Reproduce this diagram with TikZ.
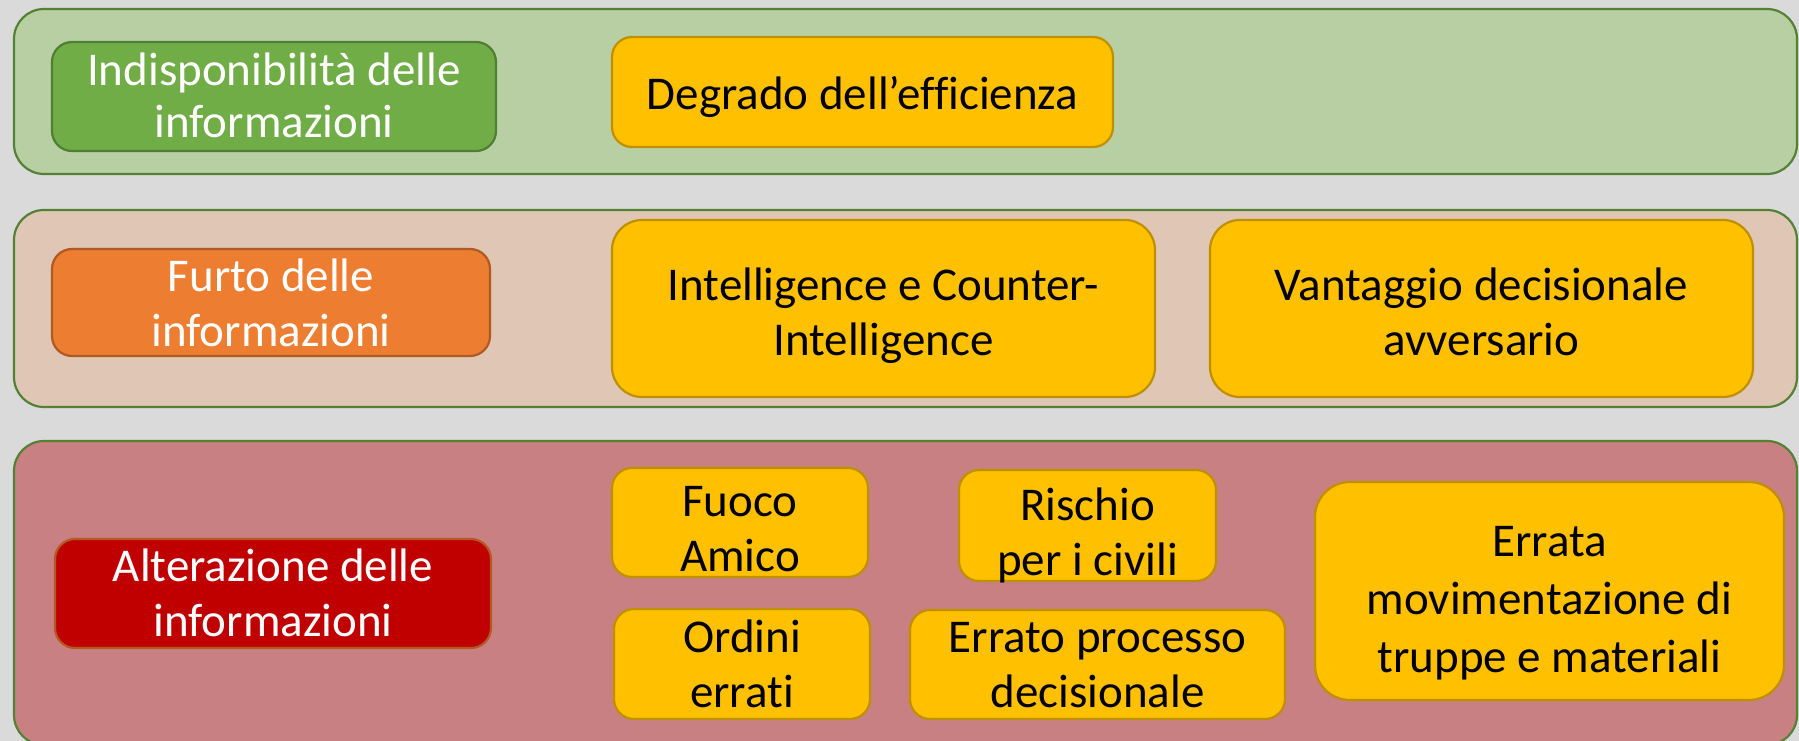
\documentclass[tikz,border=0pt]{standalone}
\usepackage{fontspec}
\setmainfont{Carlito}[Ligatures=NoCommon]
\definecolor{bggray}{HTML}{DADADA}
\definecolor{bandgreen}{HTML}{B7CFA3}
\definecolor{bandpeach}{HTML}{E0C6B4}
\definecolor{bandred}{HTML}{C98082}
\definecolor{bandline}{HTML}{548235}
\definecolor{hgreen}{HTML}{70AD47}
\definecolor{hgreenline}{HTML}{507E32}
\definecolor{horange}{HTML}{ED7D31}
\definecolor{horangeline}{HTML}{AE5A21}
\definecolor{hred}{HTML}{C00000}
\definecolor{hredline}{HTML}{B35A24}
\definecolor{yfill}{HTML}{FFC000}
\definecolor{yline}{HTML}{BF9000}
\tikzset{
  txt/.style={align=center, inner sep=0pt, font=\fontsize{47pt}{55pt}\selectfont},
  band/.style={draw=bandline, line width=2.2pt, rounded corners=30pt},
  header/.style={txt, draw=#1, line width=2.2pt, rounded corners=20pt, text=white},
  ybox/.style={txt, draw=yline, fill=yfill, line width=2.2pt, rounded corners=#1, text=black},
  ybox/.default=20pt
}
\begin{document}
\begin{tikzpicture}[x=1pt,y=-1pt]
\useasboundingbox (0,0) rectangle (1799,741);
\fill[bggray] (0,0) rectangle (1799,741);
% bands
\draw[band, fill=bandgreen] (14,9) rectangle (1797,174);
\draw[band, fill=bandpeach] (14,210) rectangle (1797,407);
\draw[band, fill=bandred] (14,441) rectangle (1797,745);
% headers
\node[header=hgreenline, fill=hgreen, minimum width=444pt, minimum height=109pt,
  font=\fontsize{47pt}{52pt}\selectfont,
  text height=90.7pt, text depth=9.3pt] (h1) at (274,96.5)
  {Indisponibilità delle\\informazioni};
\node[header=horangeline, fill=horange, minimum width=438pt, minimum height=107pt,
  text height=93.5pt, text depth=6.5pt] (h2) at (271,302.5)
  {Furto delle\\informazioni};
\node[header=hredline, fill=hred, minimum width=436pt, minimum height=109pt,
  text height=92.8pt, text depth=7.2pt] (h3) at (273,593.5)
  {Alterazione delle\\informazioni};
% yellow boxes
\node[ybox, minimum width=501pt, minimum height=110pt,
  text height=62.7pt, text depth=27.3pt] (degrado) at (862.5,92)
  {Degrado dell’efficienza};
\node[ybox=30pt, minimum width=543pt, minimum height=177pt,
  text height=102.3pt, text depth=7.7pt] (intel) at (883.5,308.5)
  {Intelligence e Counter-\\Intelligence};
\node[ybox=30pt, minimum width=543pt, minimum height=177pt,
  text height=102.3pt, text depth=7.7pt] (vant) at (1481.5,308.5)
  {Vantaggio decisionale\\avversario};
\node[ybox, minimum width=256pt, minimum height=109pt,
  text height=101.6pt, text depth=3.4pt] (fuoco) at (740,522.5)
  {Fuoco\\Amico};
\node[ybox, minimum width=257pt, minimum height=111pt,
  text height=102.5pt, text depth=2.5pt] (rischio) at (1087.5,525.5)
  {Rischio\\per i civili};
\node[ybox, minimum width=256pt, minimum height=110pt,
  text height=93.5pt, text depth=6.5pt] (ordini) at (742,664)
  {Ordini\\errati};
\node[ybox, minimum width=375pt, minimum height=109pt,
  text height=92.9pt, text depth=7.1pt] (errato) at (1097.5,664.5)
  {Errato processo\\decisionale};
\node[ybox=35pt, minimum width=469pt, minimum height=218pt, font=\fontsize{47pt}{58pt}\selectfont,
  text height=171.4pt, text depth=8.6pt] (errata) at (1549.5,591)
  {Errata\\movimentazione di\\truppe e materiali};
\end{tikzpicture}
\end{document}
